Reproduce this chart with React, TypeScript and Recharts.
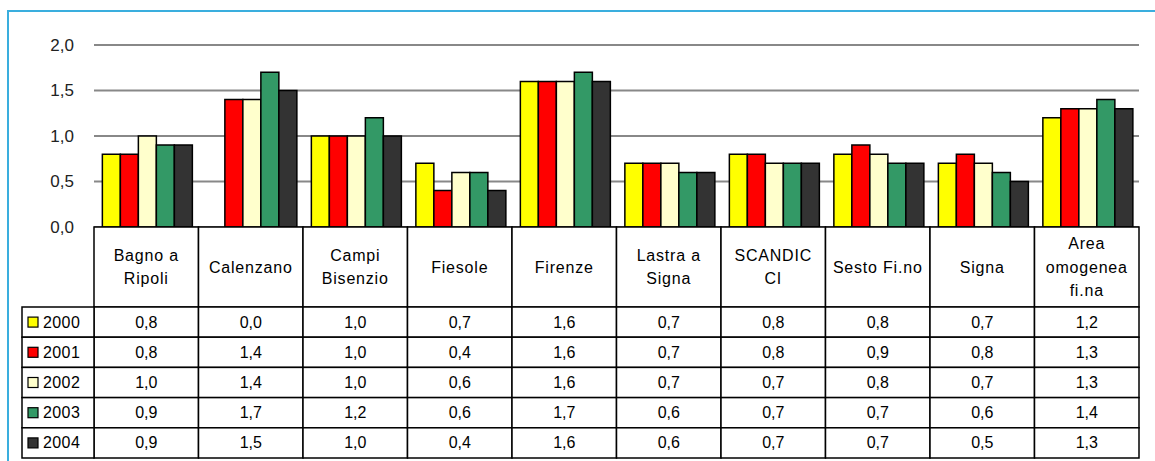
import { BarChart, Bar, XAxis, YAxis, CartesianGrid } from 'recharts';

const CATEGORIES = [
  'Bagno a\nRipoli',
  'Calenzano',
  'Campi\nBisenzio',
  'Fiesole',
  'Firenze',
  'Lastra a\nSigna',
  'SCANDIC\nCI',
  'Sesto Fi.no',
  'Signa',
  'Area\nomogenea\nfi.na',
];

const YEARS = ['2000', '2001', '2002', '2003', '2004'];

const Y2000 = [0.8, 0.0, 1.0, 0.7, 1.6, 0.7, 0.8, 0.8, 0.7, 1.2];
const Y2001 = [0.8, 1.4, 1.0, 0.4, 1.6, 0.7, 0.8, 0.9, 0.8, 1.3];
const Y2002 = [1.0, 1.4, 1.0, 0.6, 1.6, 0.7, 0.7, 0.8, 0.7, 1.3];
const Y2003 = [0.9, 1.7, 1.2, 0.6, 1.7, 0.6, 0.7, 0.7, 0.6, 1.4];
const Y2004 = [0.9, 1.5, 1.0, 0.4, 1.6, 0.6, 0.7, 0.7, 0.5, 1.3];

const Y_TICKS = [0, 0.5, 1, 1.5, 2];

const SERIES = [Y2000, Y2001, Y2002, Y2003, Y2004];
const COLORS = ['#ffff00', '#ff0000', '#ffffcc', '#339966', '#333333'];

const data = CATEGORIES.map((name, i) => {
  const row: Record<string, string | number> = { name };
  YEARS.forEach((y, s) => {
    row[y] = SERIES[s][i];
  });
  return row;
});

// layout
const W = 1155;
const H = 461;
const PLOT_LEFT = 94;
const PLOT_RIGHT = 16;
const BAND = (W - PLOT_LEFT - PLOT_RIGHT) / CATEGORIES.length;
const TABLE_TOP = 227;
const HEADER_H = 80;
const ROW_H = 30.2;
const LEGEND_W = 72;
const FONT = '"Liberation Sans", Arial, sans-serif';

const fmt = (v: number) => v.toFixed(1).replace('.', ',');

function TableColumn(props: any) {
  const { x, payload } = props;
  const idx = payload.index as number;
  const left = x - BAND / 2;
  const lines = String(payload.value).split('\n');
  const headMid = TABLE_TOP + HEADER_H / 2;
  const rowTop = TABLE_TOP + HEADER_H;
  const lineH = 23.5;

  return (
    <g fontFamily={FONT}>
      <rect x={left} y={TABLE_TOP} width={BAND} height={HEADER_H} fill="#fff" stroke="#000" strokeWidth={1.5} />
      {lines.map((l, k) => (
        <text
          key={k}
          x={x}
          y={headMid + (k - (lines.length - 1) / 2) * lineH}
          textAnchor="middle"
          dominantBaseline="central"
          fontSize={16}
          letterSpacing={0.8}
          fill="#000"
        >
          {l}
        </text>
      ))}
      {SERIES.map((s, r) => (
        <g key={r}>
          <rect x={left} y={rowTop + r * ROW_H} width={BAND} height={ROW_H} fill="#fff" stroke="#000" strokeWidth={1.5} />
          <text
            x={x}
            y={rowTop + r * ROW_H + ROW_H / 2}
            textAnchor="middle"
            dominantBaseline="central"
            fontSize={16}
            fill="#000"
          >
            {fmt(s[idx])}
          </text>
          {idx === 0 && (
            <g>
              <rect
                x={left - LEGEND_W}
                y={rowTop + r * ROW_H}
                width={LEGEND_W}
                height={ROW_H}
                fill="#fff"
                stroke="#000"
                strokeWidth={1.5}
              />
              <rect
                x={left - LEGEND_W + 6}
                y={rowTop + r * ROW_H + ROW_H / 2 - 5}
                width={10}
                height={10}
                fill={COLORS[r]}
                stroke="#000"
                strokeWidth={1.2}
              />
              <text
                x={left - LEGEND_W + 21}
                y={rowTop + r * ROW_H + ROW_H / 2}
                dominantBaseline="central"
                fontSize={16}
                letterSpacing={0.4}
                fill="#000"
              >
                {YEARS[r]}
              </text>
            </g>
          )}
        </g>
      ))}
    </g>
  );
}

function YTick(props: any) {
  const { y, payload } = props;
  return (
    <text
      x={74}
      y={y}
      textAnchor="end"
      dominantBaseline="central"
      fontFamily={FONT}
      fontSize={17}
      fill="#222"
    >
      {fmt(payload.value)}
    </text>
  );
}

export default function App() {
  return (
    <div style={{ position: 'absolute', left: 0, top: 0, width: W, height: H, background: '#fff', overflow: 'hidden' }}>
      <div
        style={{
          position: 'absolute',
          left: 7,
          top: 10,
          width: W,
          height: H,
          borderTop: '2px solid #3aaede',
          borderLeft: '2px solid #3aaede',
        }}
      />
      <div style={{ position: 'absolute', left: 0, top: 0 }}>
        <BarChart
          width={W}
          height={H}
          data={data}
          margin={{ top: 45, right: PLOT_RIGHT, left: 0, bottom: 2 }}
          barCategoryGap="8%"
          barGap={0}
        >
          <CartesianGrid vertical={false} stroke="#888" strokeWidth={2} />
          <YAxis
            width={PLOT_LEFT}
            domain={[0, 2]}
            ticks={Y_TICKS}
            axisLine={false}
            tickLine={false}
            tick={<YTick />}
          />
          <XAxis
            dataKey="name"
            height={232}
            interval={0}
            axisLine={false}
            tickLine={false}
            tick={<TableColumn />}
          />
          {YEARS.map((y, i) => (
            <Bar key={y} dataKey={y} fill={COLORS[i]} stroke="#000" strokeWidth={1.5} isAnimationActive={false} />
          ))}
        </BarChart>
      </div>
    </div>
  );
}
